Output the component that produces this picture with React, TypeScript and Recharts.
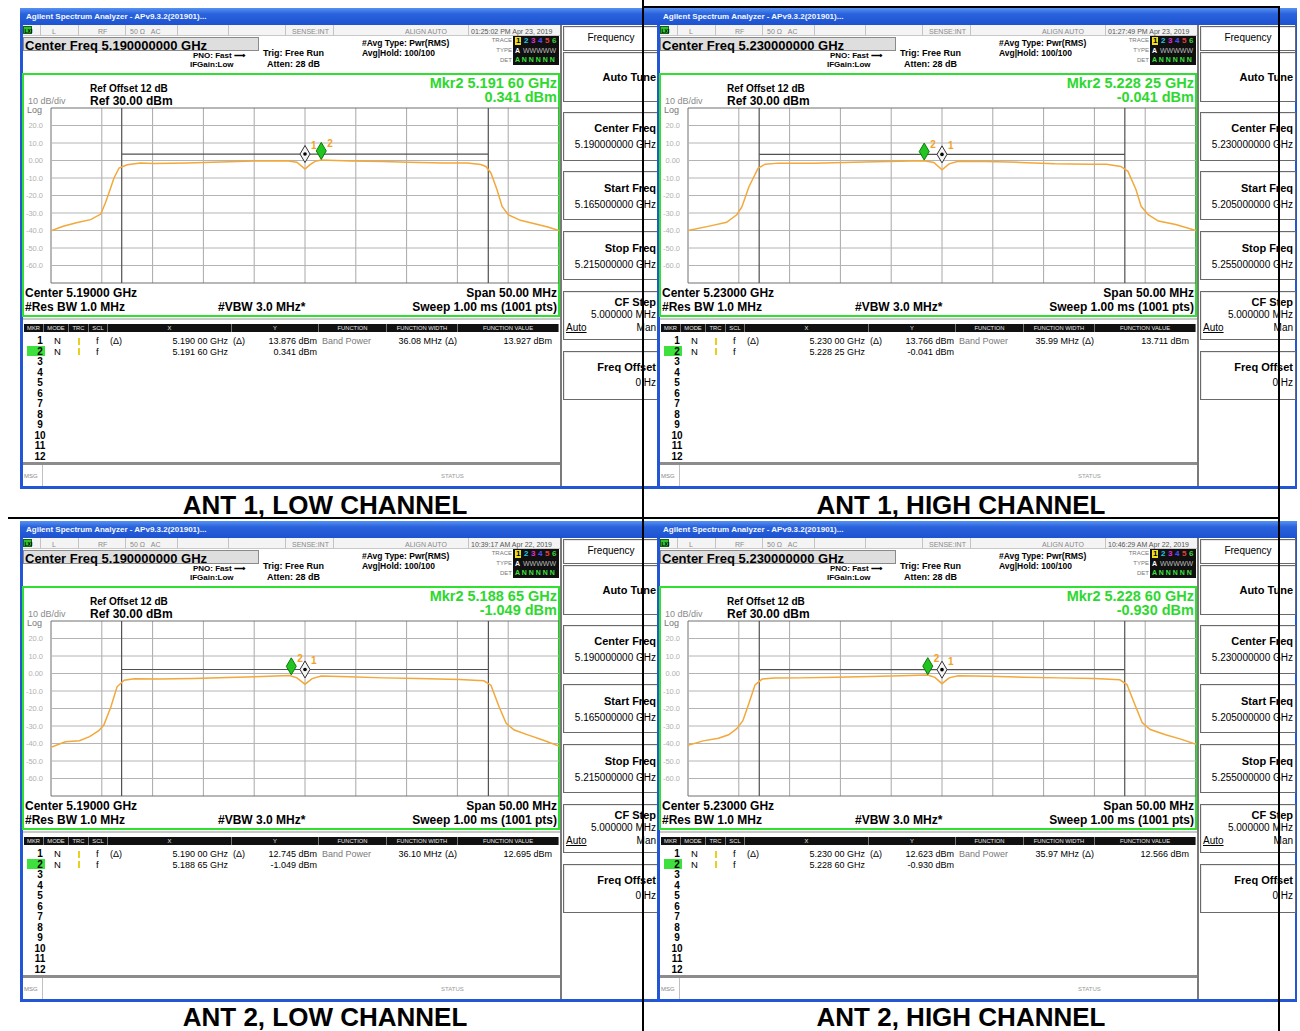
import React from 'react';
import { LineChart, Line, XAxis, YAxis, ReferenceLine, ReferenceDot } from 'recharts';

const FONT = '"Liberation Sans", Arial, Helvetica, sans-serif';

// ---------- data ----------
const freqGridMHz = [0, 5, 10, 15, 20, 25, 30, 35, 40, 45, 50];
const levelGridDbm = [30, 20, 10, 0, -10, -20, -30, -40, -50, -60, -70];
const yTickValues = [20, 10, 0, -10, -20, -30, -40, -50, -60];
const yTickLabels = ['20.0', '10.0', '0.00', '-10.0', '-20.0', '-30.0', '-40.0', '-50.0', '-60.0'];

const ant1LowFreq = [0, 1.2, 2.6, 3.9, 4.9, 5.35, 5.7, 6.2, 6.7, 7.5, 8.8, 10.1, 13.4, 16.7, 20.0, 23.2, 24.2, 25.0, 25.5, 26.0, 26.6, 29.5, 32.7, 35.1, 38.7, 41.0, 42.3, 42.8, 43.3, 43.9, 44.4, 45.0, 46.2, 47.6, 48.9, 50.0];
const ant1LowLevel = [-40.1, -37.6, -35.4, -33.8, -30.6, -24.3, -18.6, -10.0, -4.3, -2.4, -1.4, -1.7, -1.4, -0.9, -0.3, -0.1, -1.0, -4.9, -2.4, -0.5, 0.3, -0.3, -0.6, -1.0, -1.4, -1.4, -2.3, -3.4, -7.1, -16.7, -26.2, -31.0, -34.2, -36.1, -38.0, -40.0];

const ant1HighFreq = [0, 2.1, 3.8, 4.8, 5.3, 6.0, 6.9, 7.6, 8.9, 12.3, 17.4, 20.8, 23.2, 24.2, 25.0, 25.7, 26.6, 29.3, 32.7, 36.1, 39.5, 41.2, 42.6, 43.3, 44.1, 44.6, 45.3, 46.3, 48.0, 50.0];
const ant1HighLevel = [-40.0, -37.5, -35.3, -31.0, -26.5, -15.0, -4.4, -2.1, -1.5, -1.5, -0.8, -0.4, -0.1, -1.1, -5.3, -1.9, -0.4, -0.6, -1.1, -1.9, -2.1, -2.1, -3.4, -6.2, -16.7, -26.2, -31.0, -34.6, -36.6, -40.0];

const ant2LowFreq = [0, 1.4, 2.8, 3.8, 4.7, 5.2, 5.9, 6.5, 7.2, 8.2, 10.6, 14.0, 17.4, 20.8, 23.5, 24.2, 25.0, 25.7, 26.6, 29.3, 32.7, 36.1, 40.2, 42.6, 43.3, 44.1, 44.8, 45.6, 47.0, 48.4, 50.0];
const ant2LowLevel = [-42.2, -39.0, -38.4, -36.1, -32.7, -29.5, -19.0, -7.6, -3.8, -3.0, -3.2, -2.9, -2.3, -1.7, -1.1, -2.5, -6.1, -2.9, -1.5, -1.9, -2.5, -2.9, -3.4, -4.2, -6.7, -19.0, -28.5, -32.3, -35.2, -38.0, -41.4];

const ant2HighFreq = [0, 1.5, 3.0, 4.0, 4.8, 5.4, 6.0, 6.6, 7.3, 8.5, 11.0, 14.5, 18.0, 21.0, 23.6, 24.3, 25.0, 25.7, 26.6, 29.5, 33.0, 36.5, 40.0, 42.5, 43.2, 44.0, 44.7, 45.5, 47.0, 48.5, 50.0];
const ant2HighLevel = [-41.0, -38.5, -37.0, -35.0, -31.5, -27.0, -17.0, -6.5, -3.2, -2.6, -2.5, -2.2, -1.7, -1.3, -0.9, -2.2, -5.8, -2.5, -1.3, -1.6, -2.1, -2.5, -2.9, -3.6, -6.3, -18.0, -28.0, -32.0, -35.0, -37.5, -40.5];

const panelLabels = ['ANT 1, LOW CHANNEL', 'ANT 1, HIGH CHANNEL', 'ANT 2, LOW CHANNEL', 'ANT 2, HIGH CHANNEL'];
const timestamps = ['01:25:02 PM Apr 23, 2019', '01:27:49 PM Apr 23, 2019', '10:39:17 AM Apr 22, 2019', '10:46:29 AM Apr 22, 2019'];
const centerFreqs = ['5.190000000 GHz', '5.230000000 GHz', '5.190000000 GHz', '5.230000000 GHz'];
const startFreqs = ['5.165000000 GHz', '5.205000000 GHz', '5.165000000 GHz', '5.205000000 GHz'];
const stopFreqs = ['5.215000000 GHz', '5.255000000 GHz', '5.215000000 GHz', '5.255000000 GHz'];
const centerShort = ['5.19000 GHz', '5.23000 GHz', '5.19000 GHz', '5.23000 GHz'];
const mkr2FreqText = ['5.191 60 GHz', '5.228 25 GHz', '5.188 65 GHz', '5.228 60 GHz'];
const mkr2LevelText = ['0.341 dBm', '-0.041 dBm', '-1.049 dBm', '-0.930 dBm'];
const mkr2Offset = [26.6, 23.25, 23.65, 23.6];
const mkr2Level = [0.341, -0.041, -1.049, -0.93];
const mkr1XText = ['5.190 00 GHz', '5.230 00 GHz', '5.190 00 GHz', '5.230 00 GHz'];
const mkr1YText = ['13.876 dBm', '13.766 dBm', '12.745 dBm', '12.623 dBm'];
const bandWidthMHz = [36.08, 35.99, 36.10, 35.97];
const bandWidthText = ['36.08 MHz', '35.99 MHz', '36.10 MHz', '35.97 MHz'];
const bandValueText = ['13.927 dBm', '13.711 dBm', '12.695 dBm', '12.566 dBm'];
const bandLineLevel = [3.7, 3.5, 2.3, 2.2];

const traceFreqs = [ant1LowFreq, ant1HighFreq, ant2LowFreq, ant2HighFreq];
const traceLevels = [ant1LowLevel, ant1HighLevel, ant2LowLevel, ant2HighLevel];

// ---------- helpers ----------
type TP = { x: number; y: number; s?: number; b?: boolean; c?: string; a?: 'start' | 'middle' | 'end'; children: React.ReactNode; st?: React.CSSProperties };
const T = ({ x, y, s = 9, b = false, c = '#000', a = 'start', children, st }: TP) => (
  <div
    style={{
      position: 'absolute', left: x, top: y,
      transform: `translate(${a === 'start' ? 0 : a === 'middle' ? -50 : -100}%,-50%)`,
      fontSize: s, fontWeight: b ? 700 : 400, color: c, whiteSpace: 'nowrap', lineHeight: 1, fontFamily: FONT, ...st,
    }}
  >
    {children}
  </div>
);

const Box = ({ x, y, w, h, st }: { x: number; y: number; w: number; h: number; st?: React.CSSProperties }) => (
  <div style={{ position: 'absolute', left: x, top: y, width: w, height: h, boxSizing: 'border-box', ...st }} />
);

const Marker1 = (p: any) => {
  const { cx, cy } = p;
  return (
    <g>
      <polygon points={`${cx},${cy - 8.5} ${cx + 5},${cy} ${cx},${cy + 8.5} ${cx - 5},${cy}`} fill="#f4f4f4" stroke="#333" strokeWidth={1} />
      <circle cx={cx} cy={cy} r={1.8} fill="#000" />
      <text x={cx + 6} y={cy - 5} fontSize={10} fontWeight={700} fill="#f2a21e" fontFamily={FONT}>1</text>
    </g>
  );
};

const Marker2 = (p: any) => {
  const { cx, cy } = p;
  const c = cy - 9;
  return (
    <g>
      <polygon points={`${cx},${c - 8.5} ${cx + 5},${c} ${cx},${c + 8.5} ${cx - 5},${c}`} fill="#22c422" stroke="#0b7a0b" strokeWidth={1} />
      <text x={cx + 6} y={c - 4} fontSize={10} fontWeight={700} fill="#f2a21e" fontFamily={FONT}>2</text>
    </g>
  );
};

function Trace({ idx }: { idx: number }) {
  const data = traceFreqs[idx].map((f, i) => ({ f, v: traceLevels[idx][i] }));
  const bpStart = 25 - bandWidthMHz[idx] / 2;
  const bpEnd = 25 + bandWidthMHz[idx] / 2;
  const bpLevel = bandLineLevel[idx];
  return (
    <LineChart width={539} height={185} data={data} margin={{ top: 4, right: 0, bottom: 6, left: 0 }}>
      <XAxis dataKey="f" type="number" domain={[0, 50]} hide allowDataOverflow />
      <YAxis
        type="number" domain={[-70, 30]} ticks={yTickValues} interval={0} width={31}
        axisLine={false} tickLine={false} tickSize={6} tickMargin={2}
        tick={{ fontSize: 7.5, fill: '#b0b0b0', fontFamily: FONT }}
        tickFormatter={(v: number) => yTickLabels[yTickValues.indexOf(v)]}
      />
      {freqGridMHz.map((f) => (
        <ReferenceLine key={'v' + f} x={f} stroke={f === 0 || f === 50 ? '#707070' : '#a8a8a8'} strokeWidth={1} />
      ))}
      {levelGridDbm.map((l) => (
        <ReferenceLine key={'h' + l} y={l} stroke={l === 30 || l === -70 ? '#707070' : '#b4b4b4'} strokeWidth={1} />
      ))}
      <ReferenceLine x={bpStart} stroke="#505050" strokeWidth={1.2} />
      <ReferenceLine x={bpEnd} stroke="#505050" strokeWidth={1.2} />
      <ReferenceLine segment={[{ x: bpStart, y: bpLevel }, { x: bpEnd, y: bpLevel }]} stroke="#505050" strokeWidth={1.2} />
      <Line dataKey="v" type="linear" stroke="#f2a83a" strokeWidth={1.5} dot={false} isAnimationActive={false} />
      <ReferenceDot x={25} y={bpLevel} shape={Marker1} />
      <ReferenceDot x={mkr2Offset[idx]} y={mkr2Level[idx]} shape={Marker2} />
    </LineChart>
  );
}

const softBox: React.CSSProperties = { border: '1px solid #6a6a6a', background: '#fff', boxShadow: 'inset 1px 1px 0 #e8e8e8' };

function Panel({ idx, left, top, clipW }: { idx: number; left: number; top: number; clipW: number }) {
  const statusTxt: React.CSSProperties = { color: '#8a8a8a' };
  const rows = [1, 2, 3, 4, 5, 6, 7, 8, 9, 10, 11, 12];
  const rowY = (i: number) => 333 + i * 10.5;
  return (
    <div style={{ position: 'absolute', left, top, width: clipW, height: 481, overflow: 'hidden' }}>
      <div style={{ position: 'absolute', left: 0, top: 0, width: 640, height: 481, background: '#2356d6' }}>
        {/* title bar */}
        <Box x={0} y={0} w={640} h={17} st={{ background: 'linear-gradient(180deg,#5592f2 0%,#2a62dc 35%,#1d52d0 100%)' }} />
        <T x={6} y={9} s={8} b c="#f4f8ff">Agilent Spectrum Analyzer - APv9.3.2(201901)...</T>
        {/* white body */}
        <Box x={2.5} y={17} w={635} h={461} st={{ background: '#fff' }} />
        {/* status row */}
        <Box x={2.5} y={17} w={538} h={11} st={{ background: '#f4f4f4', borderBottom: '1px solid #c8c8c8' }} />
        <Box x={3} y={18} w={9} h={8} st={{ background: '#2fc02f', border: '1px solid #186018' }} />
        <T x={4.5} y={22.5} s={5} b c="#000">LXI</T>
        {[20, 58, 105, 157, 208, 265, 313, 448].map((x) => (
          <Box key={'sd' + x} x={x} y={17} w={1} h={11} st={{ background: '#c4c4c4' }} />
        ))}
        <T x={32} y={22.5} s={7} st={statusTxt}>L</T>
        <T x={78} y={22.5} s={7} st={statusTxt}>RF</T>
        <T x={110} y={22.5} s={7} st={statusTxt}>50 Ω&nbsp;&nbsp;&nbsp;AC</T>
        <T x={272} y={22.5} s={7} st={statusTxt}>SENSE:INT</T>
        <T x={385} y={22.5} s={7} st={statusTxt}>ALIGN AUTO</T>
        <T x={451} y={22.5} s={7} c="#555">{timestamps[idx]}</T>
        {/* center freq box */}
        <Box x={2.5} y={29} w={236} h={14} st={{ background: '#dedede', border: '1px solid #8a8a8a' }} />
        <T x={5} y={36.5} s={13} b>{'Center Freq  ' + centerFreqs[idx]}</T>
        <T x={173} y={48} s={8} b>PNO: Fast ⟶</T>
        <T x={170} y={57} s={8} b>IFGain:Low</T>
        <T x={243} y={45} s={9} b>Trig: Free Run</T>
        <T x={247} y={56} s={9} b>Atten: 28 dB</T>
        <T x={342} y={35} s={8.5} b>#Avg Type: Pwr(RMS)</T>
        <T x={342} y={45} s={8.5} b>Avg|Hold: 100/100</T>
        {/* trace box */}
        <T x={492} y={32} s={6} a="end" c="#777">TRACE</T>
        <T x={492} y={42} s={6} a="end" c="#777">TYPE</T>
        <T x={492} y={52} s={6} a="end" c="#777">DET</T>
        <Box x={493} y={28} w={46} h={29} st={{ background: '#101010' }} />
        <T x={495} y={33} s={8} b st={{ color: '#000', background: '#f0e020', padding: '0 1px' }}>1</T>
        <T x={504} y={33} s={8} b c="#22c8e8">2</T>
        <T x={511} y={33} s={8} b c="#e030d0">3</T>
        <T x={518} y={33} s={8} b c="#5050ff">4</T>
        <T x={525} y={33} s={8} b c="#e04040">5</T>
        <T x={532} y={33} s={8} b c="#40d040">6</T>
        <T x={495} y={42} s={7} b c="#fff">A</T>
        <T x={503} y={42} s={7} c="#bbb">WWWWW</T>
        <T x={495} y={51} s={7} b c="#3fe03f">A N N N N N</T>

        {/* green graph frame */}
        <Box x={2} y={65} w={538} h={244} st={{ border: '2.5px solid #2fe02f' }} />
        <T x={70} y={81} s={10} b>Ref Offset 12 dB</T>
        <T x={8} y={92.5} s={9} c="#8a8a8a">10 dB/div</T>
        <T x={70} y={92.5} s={12} b>Ref 30.00 dBm</T>
        <T x={7} y={101.5} s={9} c="#777">Log</T>
        <T x={537} y={74.5} s={14.5} b a="end" c="#2ed82e">{'Mkr2 ' + mkr2FreqText[idx]}</T>
        <T x={537} y={89} s={14.5} b a="end" c="#2ed82e">{mkr2LevelText[idx]}</T>
        <div style={{ position: 'absolute', left: 0, top: 96 }}>
          <Trace idx={idx} />
        </div>
        <T x={5} y={285} s={12} b>{'Center ' + centerShort[idx]}</T>
        <T x={537} y={285} s={12} b a="end">Span 50.00 MHz</T>
        <T x={5} y={299} s={12} b>#Res BW 1.0 MHz</T>
        <T x={198} y={299} s={12} b>#VBW 3.0 MHz*</T>
        <T x={537} y={299} s={12} b a="end">{'Sweep  1.00 ms (1001 pts)'}</T>

        {/* marker table */}
        <Box x={2.5} y={310} w={538} h={2} st={{ background: '#c8c8c8' }} />
        <Box x={4} y={316} w={534} h={8} st={{ background: '#111' }} />
        {[
          [4, 23, 'MKR'], [24, 48, 'MODE'], [49, 68, 'TRC'], [69, 87, 'SCL'], [88, 211, 'X'], [212, 298, 'Y'],
          [299, 366, 'FUNCTION'], [367, 437, 'FUNCTION WIDTH'], [438, 538, 'FUNCTION VALUE'],
        ].map(([a, b, t]) => (
          <React.Fragment key={'hd' + t}>
            <Box x={(b as number)} y={316} w={1} h={8} st={{ background: '#777' }} />
            <T x={((a as number) + (b as number)) / 2} y={320.5} s={5.8} a="middle" c="#e8e8e8">{t as string}</T>
          </React.Fragment>
        ))}
        <Box x={7} y={338} w={18} h={10} st={{ background: '#3ee03e' }} />
        {rows.map((r, i) => (
          <T key={'rn' + r} x={20} y={rowY(i)} s={10} b a="middle">{r}</T>
        ))}
        {[0, 1].map((i) => (
          <React.Fragment key={'rw' + i}>
            <T x={37.5} y={rowY(i)} s={9.5} a="middle">N</T>
            <Box x={58} y={rowY(i) - 3.5} w={1.5} h={7} st={{ background: '#e8d020' }} />
            <T x={76} y={rowY(i)} s={9.5}>f</T>
          </React.Fragment>
        ))}
        <T x={90} y={rowY(0)} s={9}>(Δ)</T>
        <T x={208} y={rowY(0)} s={9} a="end">{mkr1XText[idx]}</T>
        <T x={213} y={rowY(0)} s={9}>(Δ)</T>
        <T x={297} y={rowY(0)} s={9} a="end">{mkr1YText[idx]}</T>
        <T x={302} y={rowY(0)} s={9} c="#7a7a7a">Band Power</T>
        <T x={422} y={rowY(0)} s={9} a="end">{bandWidthText[idx]}</T>
        <T x={425} y={rowY(0)} s={9}>(Δ)</T>
        <T x={532} y={rowY(0)} s={9} a="end">{bandValueText[idx]}</T>
        <T x={208} y={rowY(1)} s={9} a="end">{mkr2FreqText[idx]}</T>
        <T x={297} y={rowY(1)} s={9} a="end">{mkr2LevelText[idx]}</T>

        {/* msg row */}
        <Box x={2.5} y={454} w={538} h={3} st={{ background: '#8c8c8c' }} />
        <Box x={22} y={457} w={1} h={21} st={{ background: '#c0c0c0' }} />
        <T x={4} y={468} s={6} c="#888">MSG</T>
        <T x={421} y={468} s={6} c="#999">STATUS</T>
        <Box x={540} y={17} w={2} h={461} st={{ background: '#7a7a7a' }} />

        {/* softkeys */}
        <Box x={543} y={18} w={96} h={25} st={softBox} />
        <T x={591} y={30} s={10} a="middle" st={{ fontWeight: 500 }}>Frequency</T>
        <Box x={543} y={44} w={96} h={50} st={softBox} />
        <T x={636} y={69} s={11} b a="end">Auto Tune</T>
        <Box x={543} y={104} w={96} h={49} st={softBox} />
        <T x={636} y={120} s={11} b a="end">Center Freq</T>
        <T x={636} y={137} s={10} a="end">{centerFreqs[idx]}</T>
        <Box x={543} y={163} w={96} h={49} st={softBox} />
        <T x={636} y={180} s={11} b a="end">Start Freq</T>
        <T x={636} y={197} s={10} a="end">{startFreqs[idx]}</T>
        <Box x={543} y={223} w={96} h={49} st={softBox} />
        <T x={636} y={240} s={11} b a="end">Stop Freq</T>
        <T x={636} y={257} s={10} a="end">{stopFreqs[idx]}</T>
        <Box x={543} y={283} w={96} h={49} st={softBox} />
        <T x={636} y={294} s={11} b a="end">CF Step</T>
        <T x={636} y={307} s={10} a="end">5.000000 MHz</T>
        <T x={546} y={320} s={10} st={{ textDecoration: 'underline' }}>Auto</T>
        <T x={636} y={320} s={10} a="end">Man</T>
        <Box x={543} y={343} w={96} h={49} st={softBox} />
        <T x={636} y={359} s={11} b a="end">Freq Offset</T>
        <T x={636} y={375} s={10} a="end">0 Hz</T>
      </div>
    </div>
  );
}

export default function App() {
  return (
    <div style={{ position: 'absolute', left: 0, top: 0, width: 1300, height: 1031, background: '#fff', overflow: 'hidden', fontFamily: FONT }}>
      <Panel idx={0} left={20} top={8} clipW={637} />
      <Panel idx={2} left={20} top={521} clipW={637} />
      <Panel idx={1} left={657} top={8} clipW={640} />
      <Panel idx={3} left={657} top={521} clipW={640} />
      {/* table borders */}
      <Box x={642} y={0} w={2} h={1031} st={{ background: '#000' }} />
      <Box x={1278} y={6} w={2} h={1025} st={{ background: '#000' }} />
      <Box x={642} y={6} w={638} h={2} st={{ background: '#000' }} />
      <Box x={8} y={517} w={1272} h={2} st={{ background: '#000' }} />
      <T x={325} y={505} s={26} b a="middle">{panelLabels[0]}</T>
      <T x={961} y={505} s={26} b a="middle">{panelLabels[1]}</T>
      <T x={325} y={1016.5} s={26} b a="middle">{panelLabels[2]}</T>
      <T x={961} y={1016.5} s={26} b a="middle">{panelLabels[3]}</T>
    </div>
  );
}
